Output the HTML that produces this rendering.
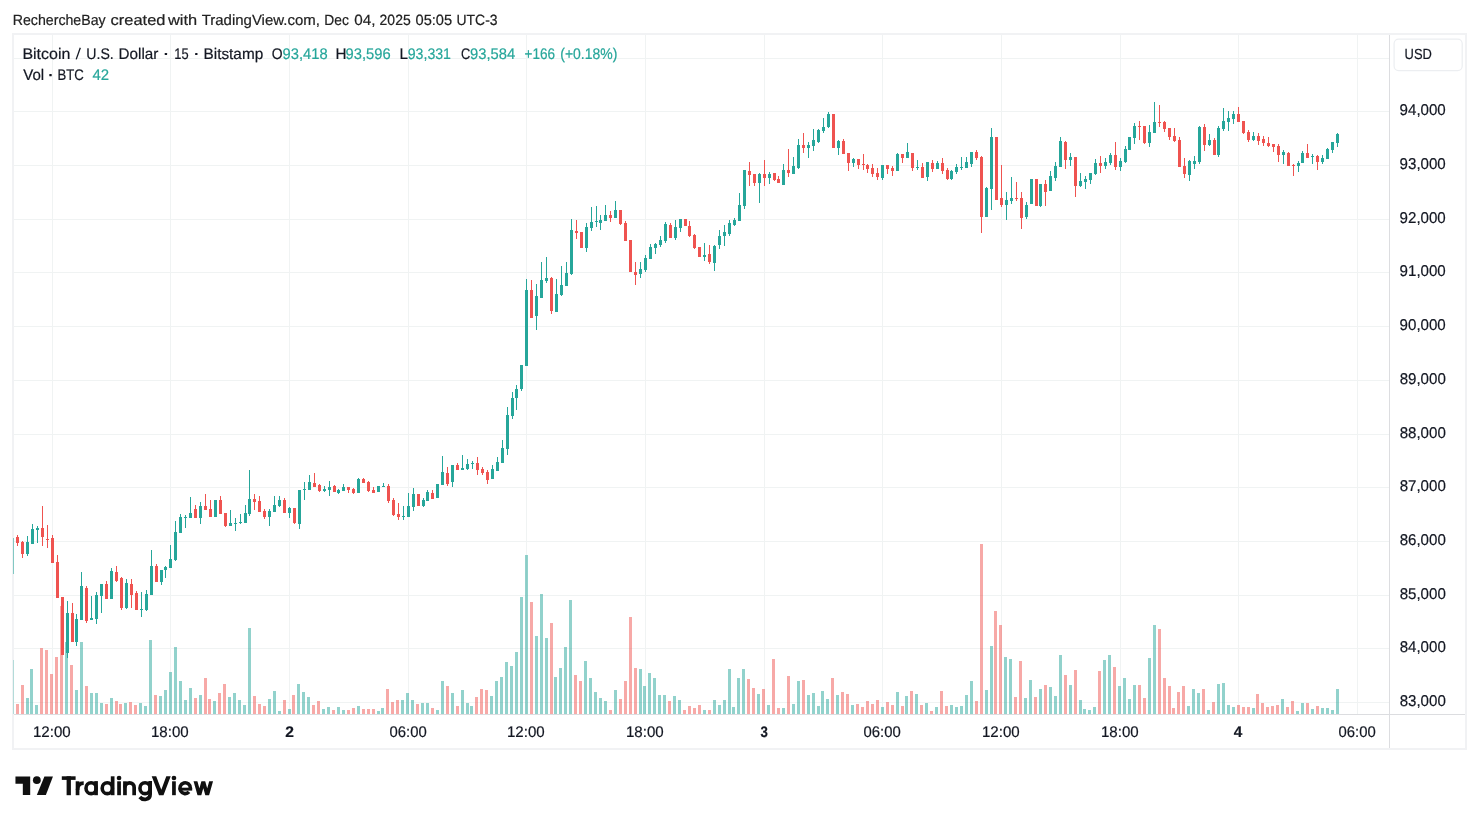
<!DOCTYPE html>
<html><head><meta charset="utf-8"><title>BTCUSD</title>
<style>
html,body{margin:0;padding:0;background:#fff;}
body{width:1479px;height:824px;overflow:hidden;}
svg{display:block;text-rendering:geometricPrecision;will-change:transform;font-family:"Liberation Sans",sans-serif;}
</style></head><body>
<svg width="1479" height="824" viewBox="0 0 1479 824">
<rect width="1479" height="824" fill="#fff"/>
<defs><clipPath id="pane"><rect x="13" y="34" width="1376" height="680"/></clipPath></defs>
<g shape-rendering="crispEdges" fill="#f0f3f3">
<rect x="52" y="34" width="1" height="680"/><rect x="170" y="34" width="1" height="680"/><rect x="289" y="34" width="1" height="680"/><rect x="408" y="34" width="1" height="680"/><rect x="526" y="34" width="1" height="680"/><rect x="645" y="34" width="1" height="680"/><rect x="764" y="34" width="1" height="680"/><rect x="882" y="34" width="1" height="680"/><rect x="1001" y="34" width="1" height="680"/><rect x="1120" y="34" width="1" height="680"/><rect x="1238" y="34" width="1" height="680"/><rect x="1357" y="34" width="1" height="680"/><rect x="13" y="702" width="1376" height="1"/><rect x="13" y="648" width="1376" height="1"/><rect x="13" y="595" width="1376" height="1"/><rect x="13" y="541" width="1376" height="1"/><rect x="13" y="487" width="1376" height="1"/><rect x="13" y="434" width="1376" height="1"/><rect x="13" y="380" width="1376" height="1"/><rect x="13" y="326" width="1376" height="1"/><rect x="13" y="272" width="1376" height="1"/><rect x="13" y="219" width="1376" height="1"/><rect x="13" y="165" width="1376" height="1"/><rect x="13" y="111" width="1376" height="1"/><rect x="13" y="58" width="1376" height="1"/>
</g>
<g shape-rendering="crispEdges" clip-path="url(#pane)">
<rect x="11" y="660" width="3" height="54" fill="#26a69a" fill-opacity="0.5"/><rect x="16" y="704" width="3" height="10" fill="#ef5350" fill-opacity="0.5"/><rect x="21" y="685" width="3" height="29" fill="#ef5350" fill-opacity="0.5"/><rect x="26" y="698" width="3" height="16" fill="#26a69a" fill-opacity="0.5"/><rect x="30" y="669" width="3" height="45" fill="#26a69a" fill-opacity="0.5"/><rect x="35" y="705" width="3" height="9" fill="#26a69a" fill-opacity="0.5"/><rect x="40" y="648" width="3" height="66" fill="#ef5350" fill-opacity="0.5"/><rect x="45" y="650" width="3" height="64" fill="#ef5350" fill-opacity="0.5"/><rect x="50" y="674" width="3" height="40" fill="#ef5350" fill-opacity="0.5"/><rect x="55" y="657" width="3" height="57" fill="#ef5350" fill-opacity="0.5"/><rect x="60" y="606" width="3" height="108" fill="#ef5350" fill-opacity="0.5"/><rect x="65" y="642" width="3" height="72" fill="#26a69a" fill-opacity="0.5"/><rect x="70" y="665" width="3" height="49" fill="#ef5350" fill-opacity="0.5"/><rect x="75" y="690" width="3" height="24" fill="#26a69a" fill-opacity="0.5"/><rect x="80" y="642" width="3" height="72" fill="#26a69a" fill-opacity="0.5"/><rect x="85" y="686" width="3" height="28" fill="#ef5350" fill-opacity="0.5"/><rect x="90" y="693" width="3" height="21" fill="#26a69a" fill-opacity="0.5"/><rect x="95" y="693" width="3" height="21" fill="#26a69a" fill-opacity="0.5"/><rect x="100" y="703" width="3" height="11" fill="#26a69a" fill-opacity="0.5"/><rect x="105" y="704" width="3" height="10" fill="#ef5350" fill-opacity="0.5"/><rect x="110" y="698" width="3" height="16" fill="#26a69a" fill-opacity="0.5"/><rect x="115" y="701" width="3" height="13" fill="#ef5350" fill-opacity="0.5"/><rect x="119" y="704" width="3" height="10" fill="#ef5350" fill-opacity="0.5"/><rect x="124" y="703" width="3" height="11" fill="#26a69a" fill-opacity="0.5"/><rect x="129" y="702" width="3" height="12" fill="#ef5350" fill-opacity="0.5"/><rect x="134" y="705" width="3" height="9" fill="#ef5350" fill-opacity="0.5"/><rect x="139" y="703" width="3" height="11" fill="#26a69a" fill-opacity="0.5"/><rect x="144" y="706" width="3" height="8" fill="#26a69a" fill-opacity="0.5"/><rect x="149" y="640" width="3" height="74" fill="#26a69a" fill-opacity="0.5"/><rect x="154" y="695" width="3" height="19" fill="#ef5350" fill-opacity="0.5"/><rect x="159" y="696" width="3" height="18" fill="#26a69a" fill-opacity="0.5"/><rect x="164" y="690" width="3" height="24" fill="#26a69a" fill-opacity="0.5"/><rect x="169" y="672" width="3" height="42" fill="#26a69a" fill-opacity="0.5"/><rect x="174" y="647" width="3" height="67" fill="#26a69a" fill-opacity="0.5"/><rect x="179" y="681" width="3" height="33" fill="#26a69a" fill-opacity="0.5"/><rect x="184" y="700" width="3" height="14" fill="#26a69a" fill-opacity="0.5"/><rect x="189" y="688" width="3" height="26" fill="#26a69a" fill-opacity="0.5"/><rect x="194" y="698" width="3" height="16" fill="#ef5350" fill-opacity="0.5"/><rect x="199" y="695" width="3" height="19" fill="#26a69a" fill-opacity="0.5"/><rect x="204" y="678" width="3" height="36" fill="#ef5350" fill-opacity="0.5"/><rect x="208" y="699" width="3" height="15" fill="#ef5350" fill-opacity="0.5"/><rect x="213" y="701" width="3" height="13" fill="#26a69a" fill-opacity="0.5"/><rect x="218" y="693" width="3" height="21" fill="#ef5350" fill-opacity="0.5"/><rect x="223" y="684" width="3" height="30" fill="#ef5350" fill-opacity="0.5"/><rect x="228" y="697" width="3" height="17" fill="#26a69a" fill-opacity="0.5"/><rect x="233" y="693" width="3" height="21" fill="#26a69a" fill-opacity="0.5"/><rect x="238" y="700" width="3" height="14" fill="#26a69a" fill-opacity="0.5"/><rect x="243" y="705" width="3" height="9" fill="#26a69a" fill-opacity="0.5"/><rect x="248" y="628" width="3" height="86" fill="#26a69a" fill-opacity="0.5"/><rect x="253" y="696" width="3" height="18" fill="#ef5350" fill-opacity="0.5"/><rect x="258" y="704" width="3" height="10" fill="#ef5350" fill-opacity="0.5"/><rect x="263" y="706" width="3" height="8" fill="#ef5350" fill-opacity="0.5"/><rect x="268" y="699" width="3" height="15" fill="#26a69a" fill-opacity="0.5"/><rect x="273" y="691" width="3" height="23" fill="#26a69a" fill-opacity="0.5"/><rect x="278" y="711" width="3" height="3" fill="#26a69a" fill-opacity="0.5"/><rect x="283" y="700" width="3" height="14" fill="#ef5350" fill-opacity="0.5"/><rect x="288" y="709" width="3" height="5" fill="#26a69a" fill-opacity="0.5"/><rect x="292" y="695" width="3" height="19" fill="#ef5350" fill-opacity="0.5"/><rect x="297" y="684" width="3" height="30" fill="#26a69a" fill-opacity="0.5"/><rect x="302" y="692" width="3" height="22" fill="#26a69a" fill-opacity="0.5"/><rect x="307" y="697" width="3" height="17" fill="#26a69a" fill-opacity="0.5"/><rect x="312" y="705" width="3" height="9" fill="#ef5350" fill-opacity="0.5"/><rect x="317" y="701" width="3" height="13" fill="#ef5350" fill-opacity="0.5"/><rect x="322" y="709" width="3" height="5" fill="#26a69a" fill-opacity="0.5"/><rect x="327" y="707" width="3" height="7" fill="#26a69a" fill-opacity="0.5"/><rect x="332" y="710" width="3" height="4" fill="#ef5350" fill-opacity="0.5"/><rect x="337" y="707" width="3" height="7" fill="#26a69a" fill-opacity="0.5"/><rect x="342" y="710" width="3" height="4" fill="#26a69a" fill-opacity="0.5"/><rect x="347" y="710" width="3" height="4" fill="#ef5350" fill-opacity="0.5"/><rect x="352" y="708" width="3" height="6" fill="#ef5350" fill-opacity="0.5"/><rect x="357" y="706" width="3" height="8" fill="#26a69a" fill-opacity="0.5"/><rect x="362" y="709" width="3" height="5" fill="#ef5350" fill-opacity="0.5"/><rect x="367" y="709" width="3" height="5" fill="#ef5350" fill-opacity="0.5"/><rect x="372" y="709" width="3" height="5" fill="#ef5350" fill-opacity="0.5"/><rect x="377" y="711" width="3" height="3" fill="#26a69a" fill-opacity="0.5"/><rect x="381" y="708" width="3" height="6" fill="#26a69a" fill-opacity="0.5"/><rect x="386" y="689" width="3" height="25" fill="#ef5350" fill-opacity="0.5"/><rect x="391" y="702" width="3" height="12" fill="#ef5350" fill-opacity="0.5"/><rect x="396" y="700" width="3" height="14" fill="#ef5350" fill-opacity="0.5"/><rect x="401" y="700" width="3" height="14" fill="#26a69a" fill-opacity="0.5"/><rect x="406" y="693" width="3" height="21" fill="#26a69a" fill-opacity="0.5"/><rect x="411" y="700" width="3" height="14" fill="#26a69a" fill-opacity="0.5"/><rect x="416" y="704" width="3" height="10" fill="#ef5350" fill-opacity="0.5"/><rect x="421" y="703" width="3" height="11" fill="#26a69a" fill-opacity="0.5"/><rect x="426" y="703" width="3" height="11" fill="#26a69a" fill-opacity="0.5"/><rect x="431" y="708" width="3" height="6" fill="#ef5350" fill-opacity="0.5"/><rect x="436" y="710" width="3" height="4" fill="#26a69a" fill-opacity="0.5"/><rect x="441" y="681" width="3" height="33" fill="#26a69a" fill-opacity="0.5"/><rect x="446" y="686" width="3" height="28" fill="#ef5350" fill-opacity="0.5"/><rect x="451" y="693" width="3" height="21" fill="#26a69a" fill-opacity="0.5"/><rect x="456" y="706" width="3" height="8" fill="#ef5350" fill-opacity="0.5"/><rect x="461" y="690" width="3" height="24" fill="#26a69a" fill-opacity="0.5"/><rect x="466" y="703" width="3" height="11" fill="#26a69a" fill-opacity="0.5"/><rect x="470" y="706" width="3" height="8" fill="#26a69a" fill-opacity="0.5"/><rect x="475" y="697" width="3" height="17" fill="#ef5350" fill-opacity="0.5"/><rect x="480" y="689" width="3" height="25" fill="#ef5350" fill-opacity="0.5"/><rect x="485" y="690" width="3" height="24" fill="#ef5350" fill-opacity="0.5"/><rect x="490" y="696" width="3" height="18" fill="#26a69a" fill-opacity="0.5"/><rect x="495" y="681" width="3" height="33" fill="#26a69a" fill-opacity="0.5"/><rect x="500" y="677" width="3" height="37" fill="#26a69a" fill-opacity="0.5"/><rect x="505" y="662" width="3" height="52" fill="#26a69a" fill-opacity="0.5"/><rect x="510" y="666" width="3" height="48" fill="#26a69a" fill-opacity="0.5"/><rect x="515" y="652" width="3" height="62" fill="#26a69a" fill-opacity="0.5"/><rect x="520" y="597" width="3" height="117" fill="#26a69a" fill-opacity="0.5"/><rect x="525" y="555" width="3" height="159" fill="#26a69a" fill-opacity="0.5"/><rect x="530" y="602" width="3" height="112" fill="#ef5350" fill-opacity="0.5"/><rect x="535" y="636" width="3" height="78" fill="#26a69a" fill-opacity="0.5"/><rect x="540" y="594" width="3" height="120" fill="#26a69a" fill-opacity="0.5"/><rect x="545" y="638" width="3" height="76" fill="#26a69a" fill-opacity="0.5"/><rect x="550" y="623" width="3" height="91" fill="#ef5350" fill-opacity="0.5"/><rect x="554" y="677" width="3" height="37" fill="#26a69a" fill-opacity="0.5"/><rect x="559" y="668" width="3" height="46" fill="#26a69a" fill-opacity="0.5"/><rect x="564" y="647" width="3" height="67" fill="#26a69a" fill-opacity="0.5"/><rect x="569" y="600" width="3" height="114" fill="#26a69a" fill-opacity="0.5"/><rect x="574" y="675" width="3" height="39" fill="#ef5350" fill-opacity="0.5"/><rect x="579" y="681" width="3" height="33" fill="#ef5350" fill-opacity="0.5"/><rect x="584" y="661" width="3" height="53" fill="#26a69a" fill-opacity="0.5"/><rect x="589" y="678" width="3" height="36" fill="#26a69a" fill-opacity="0.5"/><rect x="594" y="692" width="3" height="22" fill="#26a69a" fill-opacity="0.5"/><rect x="599" y="698" width="3" height="16" fill="#26a69a" fill-opacity="0.5"/><rect x="604" y="701" width="3" height="13" fill="#26a69a" fill-opacity="0.5"/><rect x="609" y="710" width="3" height="4" fill="#ef5350" fill-opacity="0.5"/><rect x="614" y="690" width="3" height="24" fill="#26a69a" fill-opacity="0.5"/><rect x="619" y="699" width="3" height="15" fill="#ef5350" fill-opacity="0.5"/><rect x="624" y="681" width="3" height="33" fill="#ef5350" fill-opacity="0.5"/><rect x="629" y="617" width="3" height="97" fill="#ef5350" fill-opacity="0.5"/><rect x="634" y="668" width="3" height="46" fill="#ef5350" fill-opacity="0.5"/><rect x="639" y="669" width="3" height="45" fill="#26a69a" fill-opacity="0.5"/><rect x="643" y="686" width="3" height="28" fill="#26a69a" fill-opacity="0.5"/><rect x="648" y="673" width="3" height="41" fill="#26a69a" fill-opacity="0.5"/><rect x="653" y="678" width="3" height="36" fill="#26a69a" fill-opacity="0.5"/><rect x="658" y="695" width="3" height="19" fill="#26a69a" fill-opacity="0.5"/><rect x="663" y="695" width="3" height="19" fill="#26a69a" fill-opacity="0.5"/><rect x="668" y="701" width="3" height="13" fill="#ef5350" fill-opacity="0.5"/><rect x="673" y="696" width="3" height="18" fill="#26a69a" fill-opacity="0.5"/><rect x="678" y="700" width="3" height="14" fill="#26a69a" fill-opacity="0.5"/><rect x="683" y="710" width="3" height="4" fill="#ef5350" fill-opacity="0.5"/><rect x="688" y="706" width="3" height="8" fill="#ef5350" fill-opacity="0.5"/><rect x="693" y="708" width="3" height="6" fill="#ef5350" fill-opacity="0.5"/><rect x="698" y="705" width="3" height="9" fill="#ef5350" fill-opacity="0.5"/><rect x="703" y="710" width="3" height="4" fill="#26a69a" fill-opacity="0.5"/><rect x="708" y="710" width="3" height="4" fill="#ef5350" fill-opacity="0.5"/><rect x="713" y="700" width="3" height="14" fill="#26a69a" fill-opacity="0.5"/><rect x="718" y="705" width="3" height="9" fill="#26a69a" fill-opacity="0.5"/><rect x="723" y="700" width="3" height="14" fill="#26a69a" fill-opacity="0.5"/><rect x="728" y="669" width="3" height="45" fill="#26a69a" fill-opacity="0.5"/><rect x="732" y="707" width="3" height="7" fill="#26a69a" fill-opacity="0.5"/><rect x="737" y="678" width="3" height="36" fill="#26a69a" fill-opacity="0.5"/><rect x="742" y="669" width="3" height="45" fill="#26a69a" fill-opacity="0.5"/><rect x="747" y="679" width="3" height="35" fill="#ef5350" fill-opacity="0.5"/><rect x="752" y="688" width="3" height="26" fill="#ef5350" fill-opacity="0.5"/><rect x="757" y="694" width="3" height="20" fill="#26a69a" fill-opacity="0.5"/><rect x="762" y="689" width="3" height="25" fill="#ef5350" fill-opacity="0.5"/><rect x="767" y="705" width="3" height="9" fill="#26a69a" fill-opacity="0.5"/><rect x="772" y="659" width="3" height="55" fill="#ef5350" fill-opacity="0.5"/><rect x="777" y="708" width="3" height="6" fill="#ef5350" fill-opacity="0.5"/><rect x="782" y="708" width="3" height="6" fill="#26a69a" fill-opacity="0.5"/><rect x="787" y="676" width="3" height="38" fill="#ef5350" fill-opacity="0.5"/><rect x="792" y="704" width="3" height="10" fill="#26a69a" fill-opacity="0.5"/><rect x="797" y="681" width="3" height="33" fill="#26a69a" fill-opacity="0.5"/><rect x="802" y="680" width="3" height="34" fill="#ef5350" fill-opacity="0.5"/><rect x="807" y="695" width="3" height="19" fill="#26a69a" fill-opacity="0.5"/><rect x="812" y="693" width="3" height="21" fill="#26a69a" fill-opacity="0.5"/><rect x="817" y="706" width="3" height="8" fill="#26a69a" fill-opacity="0.5"/><rect x="821" y="691" width="3" height="23" fill="#26a69a" fill-opacity="0.5"/><rect x="826" y="699" width="3" height="15" fill="#26a69a" fill-opacity="0.5"/><rect x="831" y="678" width="3" height="36" fill="#ef5350" fill-opacity="0.5"/><rect x="836" y="695" width="3" height="19" fill="#26a69a" fill-opacity="0.5"/><rect x="841" y="692" width="3" height="22" fill="#ef5350" fill-opacity="0.5"/><rect x="846" y="694" width="3" height="20" fill="#ef5350" fill-opacity="0.5"/><rect x="851" y="705" width="3" height="9" fill="#26a69a" fill-opacity="0.5"/><rect x="856" y="704" width="3" height="10" fill="#ef5350" fill-opacity="0.5"/><rect x="861" y="707" width="3" height="7" fill="#ef5350" fill-opacity="0.5"/><rect x="866" y="701" width="3" height="13" fill="#ef5350" fill-opacity="0.5"/><rect x="871" y="704" width="3" height="10" fill="#ef5350" fill-opacity="0.5"/><rect x="876" y="700" width="3" height="14" fill="#ef5350" fill-opacity="0.5"/><rect x="881" y="707" width="3" height="7" fill="#26a69a" fill-opacity="0.5"/><rect x="886" y="702" width="3" height="12" fill="#ef5350" fill-opacity="0.5"/><rect x="891" y="705" width="3" height="9" fill="#ef5350" fill-opacity="0.5"/><rect x="896" y="692" width="3" height="22" fill="#26a69a" fill-opacity="0.5"/><rect x="901" y="706" width="3" height="8" fill="#ef5350" fill-opacity="0.5"/><rect x="905" y="696" width="3" height="18" fill="#26a69a" fill-opacity="0.5"/><rect x="910" y="691" width="3" height="23" fill="#ef5350" fill-opacity="0.5"/><rect x="915" y="694" width="3" height="20" fill="#26a69a" fill-opacity="0.5"/><rect x="920" y="705" width="3" height="9" fill="#ef5350" fill-opacity="0.5"/><rect x="925" y="703" width="3" height="11" fill="#26a69a" fill-opacity="0.5"/><rect x="930" y="711" width="3" height="3" fill="#ef5350" fill-opacity="0.5"/><rect x="935" y="707" width="3" height="7" fill="#26a69a" fill-opacity="0.5"/><rect x="940" y="691" width="3" height="23" fill="#ef5350" fill-opacity="0.5"/><rect x="945" y="706" width="3" height="8" fill="#ef5350" fill-opacity="0.5"/><rect x="950" y="705" width="3" height="9" fill="#26a69a" fill-opacity="0.5"/><rect x="955" y="707" width="3" height="7" fill="#26a69a" fill-opacity="0.5"/><rect x="960" y="706" width="3" height="8" fill="#26a69a" fill-opacity="0.5"/><rect x="965" y="695" width="3" height="19" fill="#26a69a" fill-opacity="0.5"/><rect x="970" y="681" width="3" height="33" fill="#26a69a" fill-opacity="0.5"/><rect x="975" y="701" width="3" height="13" fill="#ef5350" fill-opacity="0.5"/><rect x="980" y="544" width="3" height="170" fill="#ef5350" fill-opacity="0.5"/><rect x="985" y="690" width="3" height="24" fill="#26a69a" fill-opacity="0.5"/><rect x="990" y="646" width="3" height="68" fill="#26a69a" fill-opacity="0.5"/><rect x="994" y="611" width="3" height="103" fill="#ef5350" fill-opacity="0.5"/><rect x="999" y="625" width="3" height="89" fill="#ef5350" fill-opacity="0.5"/><rect x="1004" y="657" width="3" height="57" fill="#26a69a" fill-opacity="0.5"/><rect x="1009" y="659" width="3" height="55" fill="#26a69a" fill-opacity="0.5"/><rect x="1014" y="697" width="3" height="17" fill="#ef5350" fill-opacity="0.5"/><rect x="1019" y="661" width="3" height="53" fill="#ef5350" fill-opacity="0.5"/><rect x="1024" y="698" width="3" height="16" fill="#26a69a" fill-opacity="0.5"/><rect x="1029" y="680" width="3" height="34" fill="#26a69a" fill-opacity="0.5"/><rect x="1034" y="697" width="3" height="17" fill="#ef5350" fill-opacity="0.5"/><rect x="1039" y="689" width="3" height="25" fill="#26a69a" fill-opacity="0.5"/><rect x="1044" y="685" width="3" height="29" fill="#ef5350" fill-opacity="0.5"/><rect x="1049" y="687" width="3" height="27" fill="#26a69a" fill-opacity="0.5"/><rect x="1054" y="696" width="3" height="18" fill="#26a69a" fill-opacity="0.5"/><rect x="1059" y="655" width="3" height="59" fill="#26a69a" fill-opacity="0.5"/><rect x="1064" y="675" width="3" height="39" fill="#ef5350" fill-opacity="0.5"/><rect x="1069" y="685" width="3" height="29" fill="#26a69a" fill-opacity="0.5"/><rect x="1074" y="670" width="3" height="44" fill="#ef5350" fill-opacity="0.5"/><rect x="1079" y="700" width="3" height="14" fill="#26a69a" fill-opacity="0.5"/><rect x="1083" y="709" width="3" height="5" fill="#26a69a" fill-opacity="0.5"/><rect x="1088" y="710" width="3" height="4" fill="#26a69a" fill-opacity="0.5"/><rect x="1093" y="707" width="3" height="7" fill="#26a69a" fill-opacity="0.5"/><rect x="1098" y="671" width="3" height="43" fill="#ef5350" fill-opacity="0.5"/><rect x="1103" y="660" width="3" height="54" fill="#26a69a" fill-opacity="0.5"/><rect x="1108" y="655" width="3" height="59" fill="#26a69a" fill-opacity="0.5"/><rect x="1113" y="667" width="3" height="47" fill="#ef5350" fill-opacity="0.5"/><rect x="1118" y="686" width="3" height="28" fill="#26a69a" fill-opacity="0.5"/><rect x="1123" y="678" width="3" height="36" fill="#26a69a" fill-opacity="0.5"/><rect x="1128" y="699" width="3" height="15" fill="#26a69a" fill-opacity="0.5"/><rect x="1133" y="685" width="3" height="29" fill="#26a69a" fill-opacity="0.5"/><rect x="1138" y="685" width="3" height="29" fill="#ef5350" fill-opacity="0.5"/><rect x="1143" y="698" width="3" height="16" fill="#ef5350" fill-opacity="0.5"/><rect x="1148" y="658" width="3" height="56" fill="#26a69a" fill-opacity="0.5"/><rect x="1153" y="625" width="3" height="89" fill="#26a69a" fill-opacity="0.5"/><rect x="1158" y="629" width="3" height="85" fill="#ef5350" fill-opacity="0.5"/><rect x="1163" y="678" width="3" height="36" fill="#ef5350" fill-opacity="0.5"/><rect x="1168" y="686" width="3" height="28" fill="#ef5350" fill-opacity="0.5"/><rect x="1172" y="708" width="3" height="6" fill="#ef5350" fill-opacity="0.5"/><rect x="1177" y="692" width="3" height="22" fill="#ef5350" fill-opacity="0.5"/><rect x="1182" y="686" width="3" height="28" fill="#ef5350" fill-opacity="0.5"/><rect x="1187" y="706" width="3" height="8" fill="#26a69a" fill-opacity="0.5"/><rect x="1192" y="689" width="3" height="25" fill="#26a69a" fill-opacity="0.5"/><rect x="1197" y="693" width="3" height="21" fill="#26a69a" fill-opacity="0.5"/><rect x="1202" y="689" width="3" height="25" fill="#ef5350" fill-opacity="0.5"/><rect x="1207" y="710" width="3" height="4" fill="#26a69a" fill-opacity="0.5"/><rect x="1212" y="702" width="3" height="12" fill="#ef5350" fill-opacity="0.5"/><rect x="1217" y="684" width="3" height="30" fill="#26a69a" fill-opacity="0.5"/><rect x="1222" y="683" width="3" height="31" fill="#26a69a" fill-opacity="0.5"/><rect x="1227" y="705" width="3" height="9" fill="#26a69a" fill-opacity="0.5"/><rect x="1232" y="707" width="3" height="7" fill="#26a69a" fill-opacity="0.5"/><rect x="1237" y="705" width="3" height="9" fill="#ef5350" fill-opacity="0.5"/><rect x="1242" y="707" width="3" height="7" fill="#ef5350" fill-opacity="0.5"/><rect x="1247" y="707" width="3" height="7" fill="#ef5350" fill-opacity="0.5"/><rect x="1252" y="708" width="3" height="6" fill="#26a69a" fill-opacity="0.5"/><rect x="1256" y="694" width="3" height="20" fill="#ef5350" fill-opacity="0.5"/><rect x="1261" y="703" width="3" height="11" fill="#ef5350" fill-opacity="0.5"/><rect x="1266" y="707" width="3" height="7" fill="#ef5350" fill-opacity="0.5"/><rect x="1271" y="706" width="3" height="8" fill="#ef5350" fill-opacity="0.5"/><rect x="1276" y="705" width="3" height="9" fill="#ef5350" fill-opacity="0.5"/><rect x="1281" y="699" width="3" height="15" fill="#26a69a" fill-opacity="0.5"/><rect x="1286" y="707" width="3" height="7" fill="#ef5350" fill-opacity="0.5"/><rect x="1291" y="701" width="3" height="13" fill="#ef5350" fill-opacity="0.5"/><rect x="1296" y="711" width="3" height="3" fill="#26a69a" fill-opacity="0.5"/><rect x="1301" y="703" width="3" height="11" fill="#26a69a" fill-opacity="0.5"/><rect x="1306" y="703" width="3" height="11" fill="#ef5350" fill-opacity="0.5"/><rect x="1311" y="709" width="3" height="5" fill="#26a69a" fill-opacity="0.5"/><rect x="1316" y="706" width="3" height="8" fill="#ef5350" fill-opacity="0.5"/><rect x="1321" y="708" width="3" height="6" fill="#26a69a" fill-opacity="0.5"/><rect x="1326" y="708" width="3" height="6" fill="#26a69a" fill-opacity="0.5"/><rect x="1331" y="710" width="3" height="4" fill="#26a69a" fill-opacity="0.5"/><rect x="1336" y="689" width="3" height="25" fill="#26a69a" fill-opacity="0.5"/>
</g>
<g shape-rendering="crispEdges" clip-path="url(#pane)">
<rect x="12" y="538" width="1" height="36" fill="#26a69a"/><rect x="11" y="538" width="3" height="36" fill="#26a69a"/><rect x="17" y="535" width="1" height="11" fill="#ef5350"/><rect x="16" y="537" width="3" height="6" fill="#ef5350"/><rect x="22" y="541" width="1" height="17" fill="#ef5350"/><rect x="21" y="542" width="3" height="12" fill="#ef5350"/><rect x="27" y="536" width="1" height="20" fill="#26a69a"/><rect x="26" y="542" width="3" height="12" fill="#26a69a"/><rect x="32" y="524" width="1" height="20" fill="#26a69a"/><rect x="31" y="529" width="3" height="15" fill="#26a69a"/><rect x="37" y="526" width="1" height="17" fill="#26a69a"/><rect x="36" y="528" width="3" height="2" fill="#26a69a"/><rect x="42" y="506" width="1" height="40" fill="#ef5350"/><rect x="41" y="528" width="3" height="9" fill="#ef5350"/><rect x="47" y="525" width="1" height="23" fill="#ef5350"/><rect x="46" y="539" width="3" height="1" fill="#ef5350"/><rect x="52" y="535" width="1" height="28" fill="#ef5350"/><rect x="51" y="538" width="3" height="25" fill="#ef5350"/><rect x="57" y="555" width="1" height="43" fill="#ef5350"/><rect x="56" y="562" width="3" height="36" fill="#ef5350"/><rect x="62" y="597" width="1" height="58" fill="#ef5350"/><rect x="61" y="597" width="3" height="58" fill="#ef5350"/><rect x="67" y="601" width="1" height="57" fill="#26a69a"/><rect x="66" y="613" width="3" height="40" fill="#26a69a"/><rect x="72" y="603" width="1" height="39" fill="#ef5350"/><rect x="71" y="613" width="3" height="29" fill="#ef5350"/><rect x="76" y="614" width="1" height="32" fill="#26a69a"/><rect x="75" y="619" width="3" height="23" fill="#26a69a"/><rect x="81" y="572" width="1" height="48" fill="#26a69a"/><rect x="80" y="586" width="3" height="34" fill="#26a69a"/><rect x="86" y="586" width="1" height="37" fill="#ef5350"/><rect x="85" y="588" width="3" height="33" fill="#ef5350"/><rect x="91" y="596" width="1" height="24" fill="#26a69a"/><rect x="90" y="618" width="3" height="2" fill="#26a69a"/><rect x="96" y="592" width="1" height="32" fill="#26a69a"/><rect x="95" y="595" width="3" height="24" fill="#26a69a"/><rect x="101" y="584" width="1" height="29" fill="#26a69a"/><rect x="100" y="584" width="3" height="12" fill="#26a69a"/><rect x="106" y="581" width="1" height="18" fill="#ef5350"/><rect x="105" y="584" width="3" height="15" fill="#ef5350"/><rect x="111" y="568" width="1" height="31" fill="#26a69a"/><rect x="110" y="571" width="3" height="28" fill="#26a69a"/><rect x="116" y="566" width="1" height="16" fill="#ef5350"/><rect x="115" y="572" width="3" height="9" fill="#ef5350"/><rect x="121" y="577" width="1" height="33" fill="#ef5350"/><rect x="120" y="578" width="3" height="30" fill="#ef5350"/><rect x="126" y="579" width="1" height="30" fill="#26a69a"/><rect x="125" y="583" width="3" height="25" fill="#26a69a"/><rect x="131" y="579" width="1" height="29" fill="#ef5350"/><rect x="130" y="584" width="3" height="11" fill="#ef5350"/><rect x="136" y="591" width="1" height="19" fill="#ef5350"/><rect x="135" y="593" width="3" height="17" fill="#ef5350"/><rect x="141" y="592" width="1" height="25" fill="#26a69a"/><rect x="140" y="609" width="3" height="1" fill="#26a69a"/><rect x="146" y="590" width="1" height="21" fill="#26a69a"/><rect x="145" y="594" width="3" height="16" fill="#26a69a"/><rect x="151" y="550" width="1" height="45" fill="#26a69a"/><rect x="150" y="566" width="3" height="29" fill="#26a69a"/><rect x="156" y="564" width="1" height="18" fill="#ef5350"/><rect x="155" y="566" width="3" height="16" fill="#ef5350"/><rect x="161" y="570" width="1" height="15" fill="#26a69a"/><rect x="160" y="570" width="3" height="12" fill="#26a69a"/><rect x="165" y="566" width="1" height="12" fill="#26a69a"/><rect x="164" y="567" width="3" height="3" fill="#26a69a"/><rect x="170" y="545" width="1" height="23" fill="#26a69a"/><rect x="169" y="559" width="3" height="9" fill="#26a69a"/><rect x="175" y="521" width="1" height="40" fill="#26a69a"/><rect x="174" y="532" width="3" height="28" fill="#26a69a"/><rect x="180" y="514" width="1" height="19" fill="#26a69a"/><rect x="179" y="517" width="3" height="16" fill="#26a69a"/><rect x="185" y="515" width="1" height="13" fill="#26a69a"/><rect x="184" y="517" width="3" height="1" fill="#26a69a"/><rect x="190" y="497" width="1" height="21" fill="#26a69a"/><rect x="189" y="513" width="3" height="5" fill="#26a69a"/><rect x="195" y="505" width="1" height="13" fill="#ef5350"/><rect x="194" y="509" width="3" height="9" fill="#ef5350"/><rect x="200" y="502" width="1" height="22" fill="#26a69a"/><rect x="199" y="506" width="3" height="12" fill="#26a69a"/><rect x="205" y="494" width="1" height="16" fill="#ef5350"/><rect x="204" y="506" width="3" height="4" fill="#ef5350"/><rect x="210" y="500" width="1" height="17" fill="#ef5350"/><rect x="209" y="509" width="3" height="8" fill="#ef5350"/><rect x="215" y="500" width="1" height="17" fill="#26a69a"/><rect x="214" y="500" width="3" height="17" fill="#26a69a"/><rect x="220" y="496" width="1" height="18" fill="#ef5350"/><rect x="219" y="500" width="3" height="14" fill="#ef5350"/><rect x="225" y="513" width="1" height="14" fill="#ef5350"/><rect x="224" y="513" width="3" height="13" fill="#ef5350"/><rect x="230" y="510" width="1" height="16" fill="#26a69a"/><rect x="229" y="523" width="3" height="3" fill="#26a69a"/><rect x="235" y="518" width="1" height="13" fill="#26a69a"/><rect x="234" y="523" width="3" height="1" fill="#26a69a"/><rect x="240" y="514" width="1" height="10" fill="#26a69a"/><rect x="239" y="522" width="3" height="1" fill="#26a69a"/><rect x="245" y="505" width="1" height="18" fill="#26a69a"/><rect x="244" y="513" width="3" height="10" fill="#26a69a"/><rect x="249" y="470" width="1" height="46" fill="#26a69a"/><rect x="248" y="499" width="3" height="15" fill="#26a69a"/><rect x="254" y="494" width="1" height="16" fill="#ef5350"/><rect x="253" y="499" width="3" height="3" fill="#ef5350"/><rect x="259" y="496" width="1" height="16" fill="#ef5350"/><rect x="258" y="501" width="3" height="11" fill="#ef5350"/><rect x="264" y="509" width="1" height="10" fill="#ef5350"/><rect x="263" y="511" width="3" height="6" fill="#ef5350"/><rect x="269" y="509" width="1" height="17" fill="#26a69a"/><rect x="268" y="511" width="3" height="6" fill="#26a69a"/><rect x="274" y="496" width="1" height="16" fill="#26a69a"/><rect x="273" y="505" width="3" height="7" fill="#26a69a"/><rect x="279" y="496" width="1" height="11" fill="#26a69a"/><rect x="278" y="500" width="3" height="6" fill="#26a69a"/><rect x="284" y="498" width="1" height="15" fill="#ef5350"/><rect x="283" y="500" width="3" height="13" fill="#ef5350"/><rect x="289" y="507" width="1" height="11" fill="#26a69a"/><rect x="288" y="508" width="3" height="5" fill="#26a69a"/><rect x="294" y="508" width="1" height="16" fill="#ef5350"/><rect x="293" y="508" width="3" height="15" fill="#ef5350"/><rect x="299" y="490" width="1" height="39" fill="#26a69a"/><rect x="298" y="490" width="3" height="34" fill="#26a69a"/><rect x="304" y="482" width="1" height="18" fill="#26a69a"/><rect x="303" y="489" width="3" height="1" fill="#26a69a"/><rect x="309" y="475" width="1" height="15" fill="#26a69a"/><rect x="308" y="482" width="3" height="8" fill="#26a69a"/><rect x="314" y="473" width="1" height="14" fill="#ef5350"/><rect x="313" y="483" width="3" height="4" fill="#ef5350"/><rect x="319" y="484" width="1" height="8" fill="#ef5350"/><rect x="318" y="485" width="3" height="6" fill="#ef5350"/><rect x="324" y="486" width="1" height="6" fill="#26a69a"/><rect x="323" y="489" width="3" height="2" fill="#26a69a"/><rect x="329" y="481" width="1" height="15" fill="#26a69a"/><rect x="328" y="487" width="3" height="3" fill="#26a69a"/><rect x="334" y="485" width="1" height="7" fill="#ef5350"/><rect x="333" y="486" width="3" height="6" fill="#ef5350"/><rect x="338" y="489" width="1" height="5" fill="#26a69a"/><rect x="337" y="490" width="3" height="3" fill="#26a69a"/><rect x="343" y="484" width="1" height="7" fill="#26a69a"/><rect x="342" y="487" width="3" height="4" fill="#26a69a"/><rect x="348" y="487" width="1" height="6" fill="#ef5350"/><rect x="347" y="487" width="3" height="3" fill="#ef5350"/><rect x="353" y="488" width="1" height="6" fill="#ef5350"/><rect x="352" y="489" width="3" height="4" fill="#ef5350"/><rect x="358" y="478" width="1" height="15" fill="#26a69a"/><rect x="357" y="479" width="3" height="14" fill="#26a69a"/><rect x="363" y="478" width="1" height="5" fill="#ef5350"/><rect x="362" y="479" width="3" height="4" fill="#ef5350"/><rect x="368" y="481" width="1" height="11" fill="#ef5350"/><rect x="367" y="482" width="3" height="9" fill="#ef5350"/><rect x="373" y="487" width="1" height="6" fill="#ef5350"/><rect x="372" y="490" width="3" height="3" fill="#ef5350"/><rect x="378" y="486" width="1" height="6" fill="#26a69a"/><rect x="377" y="486" width="3" height="6" fill="#26a69a"/><rect x="383" y="483" width="1" height="4" fill="#26a69a"/><rect x="382" y="486" width="3" height="1" fill="#26a69a"/><rect x="388" y="484" width="1" height="19" fill="#ef5350"/><rect x="387" y="486" width="3" height="15" fill="#ef5350"/><rect x="393" y="498" width="1" height="18" fill="#ef5350"/><rect x="392" y="500" width="3" height="15" fill="#ef5350"/><rect x="398" y="503" width="1" height="17" fill="#ef5350"/><rect x="397" y="514" width="3" height="3" fill="#ef5350"/><rect x="403" y="506" width="1" height="14" fill="#26a69a"/><rect x="402" y="516" width="3" height="1" fill="#26a69a"/><rect x="408" y="493" width="1" height="24" fill="#26a69a"/><rect x="407" y="506" width="3" height="11" fill="#26a69a"/><rect x="413" y="488" width="1" height="23" fill="#26a69a"/><rect x="412" y="494" width="3" height="13" fill="#26a69a"/><rect x="418" y="494" width="1" height="12" fill="#ef5350"/><rect x="417" y="494" width="3" height="12" fill="#ef5350"/><rect x="423" y="498" width="1" height="9" fill="#26a69a"/><rect x="422" y="500" width="3" height="6" fill="#26a69a"/><rect x="427" y="490" width="1" height="11" fill="#26a69a"/><rect x="426" y="492" width="3" height="9" fill="#26a69a"/><rect x="432" y="490" width="1" height="9" fill="#ef5350"/><rect x="431" y="493" width="3" height="6" fill="#ef5350"/><rect x="437" y="484" width="1" height="14" fill="#26a69a"/><rect x="436" y="484" width="3" height="14" fill="#26a69a"/><rect x="442" y="456" width="1" height="29" fill="#26a69a"/><rect x="441" y="472" width="3" height="13" fill="#26a69a"/><rect x="447" y="467" width="1" height="19" fill="#ef5350"/><rect x="446" y="473" width="3" height="11" fill="#ef5350"/><rect x="452" y="465" width="1" height="22" fill="#26a69a"/><rect x="451" y="465" width="3" height="17" fill="#26a69a"/><rect x="457" y="463" width="1" height="7" fill="#ef5350"/><rect x="456" y="465" width="3" height="5" fill="#ef5350"/><rect x="462" y="455" width="1" height="15" fill="#26a69a"/><rect x="461" y="468" width="3" height="2" fill="#26a69a"/><rect x="467" y="459" width="1" height="11" fill="#26a69a"/><rect x="466" y="464" width="3" height="5" fill="#26a69a"/><rect x="472" y="461" width="1" height="8" fill="#26a69a"/><rect x="471" y="463" width="3" height="1" fill="#26a69a"/><rect x="477" y="457" width="1" height="18" fill="#ef5350"/><rect x="476" y="463" width="3" height="7" fill="#ef5350"/><rect x="482" y="467" width="1" height="8" fill="#ef5350"/><rect x="481" y="469" width="3" height="4" fill="#ef5350"/><rect x="487" y="470" width="1" height="14" fill="#ef5350"/><rect x="486" y="472" width="3" height="8" fill="#ef5350"/><rect x="492" y="465" width="1" height="14" fill="#26a69a"/><rect x="491" y="469" width="3" height="10" fill="#26a69a"/><rect x="497" y="457" width="1" height="14" fill="#26a69a"/><rect x="496" y="462" width="3" height="9" fill="#26a69a"/><rect x="502" y="440" width="1" height="23" fill="#26a69a"/><rect x="501" y="448" width="3" height="15" fill="#26a69a"/><rect x="507" y="407" width="1" height="48" fill="#26a69a"/><rect x="506" y="415" width="3" height="34" fill="#26a69a"/><rect x="512" y="392" width="1" height="27" fill="#26a69a"/><rect x="511" y="398" width="3" height="18" fill="#26a69a"/><rect x="516" y="385" width="1" height="25" fill="#26a69a"/><rect x="515" y="389" width="3" height="9" fill="#26a69a"/><rect x="521" y="365" width="1" height="26" fill="#26a69a"/><rect x="520" y="365" width="3" height="24" fill="#26a69a"/><rect x="526" y="279" width="1" height="87" fill="#26a69a"/><rect x="525" y="290" width="3" height="76" fill="#26a69a"/><rect x="531" y="280" width="1" height="38" fill="#ef5350"/><rect x="530" y="290" width="3" height="28" fill="#ef5350"/><rect x="536" y="284" width="1" height="46" fill="#26a69a"/><rect x="535" y="296" width="3" height="20" fill="#26a69a"/><rect x="541" y="262" width="1" height="36" fill="#26a69a"/><rect x="540" y="280" width="3" height="18" fill="#26a69a"/><rect x="546" y="257" width="1" height="26" fill="#26a69a"/><rect x="545" y="278" width="3" height="3" fill="#26a69a"/><rect x="551" y="277" width="1" height="37" fill="#ef5350"/><rect x="550" y="278" width="3" height="33" fill="#ef5350"/><rect x="556" y="279" width="1" height="33" fill="#26a69a"/><rect x="555" y="294" width="3" height="18" fill="#26a69a"/><rect x="561" y="266" width="1" height="30" fill="#26a69a"/><rect x="560" y="285" width="3" height="10" fill="#26a69a"/><rect x="566" y="262" width="1" height="24" fill="#26a69a"/><rect x="565" y="273" width="3" height="13" fill="#26a69a"/><rect x="571" y="219" width="1" height="56" fill="#26a69a"/><rect x="570" y="230" width="3" height="44" fill="#26a69a"/><rect x="576" y="220" width="1" height="19" fill="#ef5350"/><rect x="575" y="231" width="3" height="2" fill="#ef5350"/><rect x="581" y="232" width="1" height="16" fill="#ef5350"/><rect x="580" y="232" width="3" height="16" fill="#ef5350"/><rect x="586" y="223" width="1" height="29" fill="#26a69a"/><rect x="585" y="227" width="3" height="21" fill="#26a69a"/><rect x="591" y="207" width="1" height="24" fill="#26a69a"/><rect x="590" y="222" width="3" height="6" fill="#26a69a"/><rect x="596" y="206" width="1" height="21" fill="#26a69a"/><rect x="595" y="221" width="3" height="1" fill="#26a69a"/><rect x="600" y="215" width="1" height="15" fill="#26a69a"/><rect x="599" y="220" width="3" height="3" fill="#26a69a"/><rect x="605" y="205" width="1" height="16" fill="#26a69a"/><rect x="604" y="215" width="3" height="6" fill="#26a69a"/><rect x="610" y="211" width="1" height="11" fill="#ef5350"/><rect x="609" y="215" width="3" height="3" fill="#ef5350"/><rect x="615" y="201" width="1" height="17" fill="#26a69a"/><rect x="614" y="210" width="3" height="8" fill="#26a69a"/><rect x="620" y="210" width="1" height="15" fill="#ef5350"/><rect x="619" y="210" width="3" height="14" fill="#ef5350"/><rect x="625" y="221" width="1" height="20" fill="#ef5350"/><rect x="624" y="223" width="3" height="18" fill="#ef5350"/><rect x="630" y="240" width="1" height="32" fill="#ef5350"/><rect x="629" y="240" width="3" height="32" fill="#ef5350"/><rect x="635" y="262" width="1" height="23" fill="#ef5350"/><rect x="634" y="272" width="3" height="3" fill="#ef5350"/><rect x="640" y="262" width="1" height="16" fill="#26a69a"/><rect x="639" y="269" width="3" height="5" fill="#26a69a"/><rect x="645" y="255" width="1" height="17" fill="#26a69a"/><rect x="644" y="258" width="3" height="12" fill="#26a69a"/><rect x="650" y="244" width="1" height="15" fill="#26a69a"/><rect x="649" y="247" width="3" height="12" fill="#26a69a"/><rect x="655" y="243" width="1" height="11" fill="#26a69a"/><rect x="654" y="244" width="3" height="4" fill="#26a69a"/><rect x="660" y="236" width="1" height="11" fill="#26a69a"/><rect x="659" y="240" width="3" height="5" fill="#26a69a"/><rect x="665" y="222" width="1" height="21" fill="#26a69a"/><rect x="664" y="224" width="3" height="17" fill="#26a69a"/><rect x="670" y="223" width="1" height="15" fill="#ef5350"/><rect x="669" y="225" width="3" height="13" fill="#ef5350"/><rect x="675" y="220" width="1" height="20" fill="#26a69a"/><rect x="674" y="227" width="3" height="11" fill="#26a69a"/><rect x="680" y="219" width="1" height="13" fill="#26a69a"/><rect x="679" y="219" width="3" height="9" fill="#26a69a"/><rect x="685" y="219" width="1" height="7" fill="#ef5350"/><rect x="684" y="219" width="3" height="7" fill="#ef5350"/><rect x="689" y="221" width="1" height="16" fill="#ef5350"/><rect x="688" y="226" width="3" height="10" fill="#ef5350"/><rect x="694" y="234" width="1" height="15" fill="#ef5350"/><rect x="693" y="235" width="3" height="13" fill="#ef5350"/><rect x="699" y="247" width="1" height="10" fill="#ef5350"/><rect x="698" y="247" width="3" height="10" fill="#ef5350"/><rect x="704" y="243" width="1" height="18" fill="#26a69a"/><rect x="703" y="255" width="3" height="2" fill="#26a69a"/><rect x="709" y="245" width="1" height="19" fill="#ef5350"/><rect x="708" y="254" width="3" height="8" fill="#ef5350"/><rect x="714" y="245" width="1" height="26" fill="#26a69a"/><rect x="713" y="246" width="3" height="17" fill="#26a69a"/><rect x="719" y="230" width="1" height="19" fill="#26a69a"/><rect x="718" y="236" width="3" height="9" fill="#26a69a"/><rect x="724" y="225" width="1" height="21" fill="#26a69a"/><rect x="723" y="232" width="3" height="4" fill="#26a69a"/><rect x="729" y="220" width="1" height="16" fill="#26a69a"/><rect x="728" y="223" width="3" height="11" fill="#26a69a"/><rect x="734" y="218" width="1" height="8" fill="#26a69a"/><rect x="733" y="220" width="3" height="5" fill="#26a69a"/><rect x="739" y="193" width="1" height="28" fill="#26a69a"/><rect x="738" y="205" width="3" height="16" fill="#26a69a"/><rect x="744" y="170" width="1" height="39" fill="#26a69a"/><rect x="743" y="170" width="3" height="36" fill="#26a69a"/><rect x="749" y="162" width="1" height="24" fill="#ef5350"/><rect x="748" y="171" width="3" height="4" fill="#ef5350"/><rect x="754" y="174" width="1" height="12" fill="#ef5350"/><rect x="753" y="174" width="3" height="9" fill="#ef5350"/><rect x="759" y="173" width="1" height="30" fill="#26a69a"/><rect x="758" y="174" width="3" height="9" fill="#26a69a"/><rect x="764" y="160" width="1" height="26" fill="#ef5350"/><rect x="763" y="174" width="3" height="4" fill="#ef5350"/><rect x="769" y="172" width="1" height="12" fill="#26a69a"/><rect x="768" y="174" width="3" height="4" fill="#26a69a"/><rect x="774" y="173" width="1" height="8" fill="#ef5350"/><rect x="773" y="173" width="3" height="7" fill="#ef5350"/><rect x="778" y="176" width="1" height="7" fill="#ef5350"/><rect x="777" y="179" width="3" height="4" fill="#ef5350"/><rect x="783" y="164" width="1" height="21" fill="#26a69a"/><rect x="782" y="170" width="3" height="15" fill="#26a69a"/><rect x="788" y="149" width="1" height="28" fill="#ef5350"/><rect x="787" y="170" width="3" height="3" fill="#ef5350"/><rect x="793" y="157" width="1" height="17" fill="#26a69a"/><rect x="792" y="166" width="3" height="8" fill="#26a69a"/><rect x="798" y="139" width="1" height="30" fill="#26a69a"/><rect x="797" y="145" width="3" height="23" fill="#26a69a"/><rect x="803" y="133" width="1" height="20" fill="#ef5350"/><rect x="802" y="145" width="3" height="3" fill="#ef5350"/><rect x="808" y="142" width="1" height="16" fill="#26a69a"/><rect x="807" y="145" width="3" height="3" fill="#26a69a"/><rect x="813" y="129" width="1" height="22" fill="#26a69a"/><rect x="812" y="140" width="3" height="6" fill="#26a69a"/><rect x="818" y="129" width="1" height="14" fill="#26a69a"/><rect x="817" y="130" width="3" height="12" fill="#26a69a"/><rect x="823" y="118" width="1" height="15" fill="#26a69a"/><rect x="822" y="127" width="3" height="4" fill="#26a69a"/><rect x="828" y="112" width="1" height="16" fill="#26a69a"/><rect x="827" y="114" width="3" height="13" fill="#26a69a"/><rect x="833" y="114" width="1" height="34" fill="#ef5350"/><rect x="832" y="114" width="3" height="34" fill="#ef5350"/><rect x="838" y="140" width="1" height="15" fill="#26a69a"/><rect x="837" y="141" width="3" height="7" fill="#26a69a"/><rect x="843" y="139" width="1" height="15" fill="#ef5350"/><rect x="842" y="141" width="3" height="13" fill="#ef5350"/><rect x="848" y="153" width="1" height="18" fill="#ef5350"/><rect x="847" y="153" width="3" height="10" fill="#ef5350"/><rect x="853" y="158" width="1" height="9" fill="#26a69a"/><rect x="852" y="159" width="3" height="4" fill="#26a69a"/><rect x="858" y="159" width="1" height="10" fill="#ef5350"/><rect x="857" y="159" width="3" height="6" fill="#ef5350"/><rect x="863" y="154" width="1" height="16" fill="#ef5350"/><rect x="862" y="164" width="3" height="1" fill="#ef5350"/><rect x="867" y="164" width="1" height="9" fill="#ef5350"/><rect x="866" y="165" width="3" height="4" fill="#ef5350"/><rect x="872" y="164" width="1" height="13" fill="#ef5350"/><rect x="871" y="168" width="3" height="6" fill="#ef5350"/><rect x="877" y="168" width="1" height="12" fill="#ef5350"/><rect x="876" y="173" width="3" height="4" fill="#ef5350"/><rect x="882" y="165" width="1" height="15" fill="#26a69a"/><rect x="881" y="165" width="3" height="13" fill="#26a69a"/><rect x="887" y="165" width="1" height="9" fill="#ef5350"/><rect x="886" y="165" width="3" height="4" fill="#ef5350"/><rect x="892" y="166" width="1" height="10" fill="#ef5350"/><rect x="891" y="168" width="3" height="3" fill="#ef5350"/><rect x="897" y="153" width="1" height="18" fill="#26a69a"/><rect x="896" y="154" width="3" height="17" fill="#26a69a"/><rect x="902" y="154" width="1" height="9" fill="#ef5350"/><rect x="901" y="154" width="3" height="4" fill="#ef5350"/><rect x="907" y="143" width="1" height="15" fill="#26a69a"/><rect x="906" y="152" width="3" height="6" fill="#26a69a"/><rect x="912" y="153" width="1" height="18" fill="#ef5350"/><rect x="911" y="153" width="3" height="15" fill="#ef5350"/><rect x="917" y="160" width="1" height="10" fill="#26a69a"/><rect x="916" y="167" width="3" height="1" fill="#26a69a"/><rect x="922" y="163" width="1" height="15" fill="#ef5350"/><rect x="921" y="167" width="3" height="11" fill="#ef5350"/><rect x="927" y="162" width="1" height="19" fill="#26a69a"/><rect x="926" y="162" width="3" height="15" fill="#26a69a"/><rect x="932" y="160" width="1" height="12" fill="#ef5350"/><rect x="931" y="163" width="3" height="6" fill="#ef5350"/><rect x="937" y="161" width="1" height="8" fill="#26a69a"/><rect x="936" y="163" width="3" height="6" fill="#26a69a"/><rect x="942" y="158" width="1" height="16" fill="#ef5350"/><rect x="941" y="163" width="3" height="8" fill="#ef5350"/><rect x="947" y="168" width="1" height="12" fill="#ef5350"/><rect x="946" y="170" width="3" height="9" fill="#ef5350"/><rect x="951" y="170" width="1" height="10" fill="#26a69a"/><rect x="950" y="171" width="3" height="8" fill="#26a69a"/><rect x="956" y="164" width="1" height="10" fill="#26a69a"/><rect x="955" y="167" width="3" height="5" fill="#26a69a"/><rect x="961" y="157" width="1" height="13" fill="#26a69a"/><rect x="960" y="167" width="3" height="1" fill="#26a69a"/><rect x="966" y="157" width="1" height="11" fill="#26a69a"/><rect x="965" y="162" width="3" height="6" fill="#26a69a"/><rect x="971" y="152" width="1" height="15" fill="#26a69a"/><rect x="970" y="152" width="3" height="12" fill="#26a69a"/><rect x="976" y="150" width="1" height="10" fill="#ef5350"/><rect x="975" y="152" width="3" height="6" fill="#ef5350"/><rect x="981" y="156" width="1" height="77" fill="#ef5350"/><rect x="980" y="157" width="3" height="60" fill="#ef5350"/><rect x="986" y="187" width="1" height="30" fill="#26a69a"/><rect x="985" y="188" width="3" height="29" fill="#26a69a"/><rect x="991" y="128" width="1" height="82" fill="#26a69a"/><rect x="990" y="137" width="3" height="52" fill="#26a69a"/><rect x="996" y="137" width="1" height="63" fill="#ef5350"/><rect x="995" y="137" width="3" height="63" fill="#ef5350"/><rect x="1001" y="165" width="1" height="42" fill="#ef5350"/><rect x="1000" y="198" width="3" height="7" fill="#ef5350"/><rect x="1006" y="192" width="1" height="28" fill="#26a69a"/><rect x="1005" y="200" width="3" height="5" fill="#26a69a"/><rect x="1011" y="177" width="1" height="27" fill="#26a69a"/><rect x="1010" y="198" width="3" height="3" fill="#26a69a"/><rect x="1016" y="182" width="1" height="19" fill="#ef5350"/><rect x="1015" y="198" width="3" height="1" fill="#ef5350"/><rect x="1021" y="192" width="1" height="37" fill="#ef5350"/><rect x="1020" y="198" width="3" height="20" fill="#ef5350"/><rect x="1026" y="202" width="1" height="17" fill="#26a69a"/><rect x="1025" y="205" width="3" height="12" fill="#26a69a"/><rect x="1031" y="179" width="1" height="25" fill="#26a69a"/><rect x="1030" y="179" width="3" height="25" fill="#26a69a"/><rect x="1036" y="179" width="1" height="27" fill="#ef5350"/><rect x="1035" y="179" width="3" height="27" fill="#ef5350"/><rect x="1040" y="184" width="1" height="23" fill="#26a69a"/><rect x="1039" y="184" width="3" height="22" fill="#26a69a"/><rect x="1045" y="180" width="1" height="26" fill="#ef5350"/><rect x="1044" y="184" width="3" height="8" fill="#ef5350"/><rect x="1050" y="171" width="1" height="20" fill="#26a69a"/><rect x="1049" y="176" width="3" height="15" fill="#26a69a"/><rect x="1055" y="162" width="1" height="19" fill="#26a69a"/><rect x="1054" y="166" width="3" height="12" fill="#26a69a"/><rect x="1060" y="137" width="1" height="30" fill="#26a69a"/><rect x="1059" y="141" width="3" height="26" fill="#26a69a"/><rect x="1065" y="141" width="1" height="28" fill="#ef5350"/><rect x="1064" y="142" width="3" height="18" fill="#ef5350"/><rect x="1070" y="153" width="1" height="13" fill="#26a69a"/><rect x="1069" y="157" width="3" height="3" fill="#26a69a"/><rect x="1075" y="157" width="1" height="40" fill="#ef5350"/><rect x="1074" y="157" width="3" height="29" fill="#ef5350"/><rect x="1080" y="173" width="1" height="14" fill="#26a69a"/><rect x="1079" y="181" width="3" height="5" fill="#26a69a"/><rect x="1085" y="176" width="1" height="13" fill="#26a69a"/><rect x="1084" y="179" width="3" height="3" fill="#26a69a"/><rect x="1090" y="173" width="1" height="11" fill="#26a69a"/><rect x="1089" y="173" width="3" height="7" fill="#26a69a"/><rect x="1095" y="159" width="1" height="16" fill="#26a69a"/><rect x="1094" y="163" width="3" height="11" fill="#26a69a"/><rect x="1100" y="156" width="1" height="17" fill="#ef5350"/><rect x="1099" y="163" width="3" height="3" fill="#ef5350"/><rect x="1105" y="158" width="1" height="11" fill="#26a69a"/><rect x="1104" y="162" width="3" height="4" fill="#26a69a"/><rect x="1110" y="153" width="1" height="12" fill="#26a69a"/><rect x="1109" y="155" width="3" height="8" fill="#26a69a"/><rect x="1115" y="142" width="1" height="28" fill="#ef5350"/><rect x="1114" y="155" width="3" height="12" fill="#ef5350"/><rect x="1120" y="158" width="1" height="13" fill="#26a69a"/><rect x="1119" y="161" width="3" height="6" fill="#26a69a"/><rect x="1125" y="146" width="1" height="17" fill="#26a69a"/><rect x="1124" y="149" width="3" height="13" fill="#26a69a"/><rect x="1129" y="137" width="1" height="13" fill="#26a69a"/><rect x="1128" y="137" width="3" height="13" fill="#26a69a"/><rect x="1134" y="123" width="1" height="21" fill="#26a69a"/><rect x="1133" y="126" width="3" height="12" fill="#26a69a"/><rect x="1139" y="121" width="1" height="19" fill="#ef5350"/><rect x="1138" y="126" width="3" height="1" fill="#ef5350"/><rect x="1144" y="126" width="1" height="18" fill="#ef5350"/><rect x="1143" y="126" width="3" height="17" fill="#ef5350"/><rect x="1149" y="125" width="1" height="22" fill="#26a69a"/><rect x="1148" y="132" width="3" height="11" fill="#26a69a"/><rect x="1154" y="102" width="1" height="31" fill="#26a69a"/><rect x="1153" y="122" width="3" height="11" fill="#26a69a"/><rect x="1159" y="105" width="1" height="22" fill="#ef5350"/><rect x="1158" y="122" width="3" height="1" fill="#ef5350"/><rect x="1164" y="121" width="1" height="11" fill="#ef5350"/><rect x="1163" y="122" width="3" height="7" fill="#ef5350"/><rect x="1169" y="128" width="1" height="12" fill="#ef5350"/><rect x="1168" y="128" width="3" height="9" fill="#ef5350"/><rect x="1174" y="128" width="1" height="14" fill="#ef5350"/><rect x="1173" y="136" width="3" height="5" fill="#ef5350"/><rect x="1179" y="137" width="1" height="30" fill="#ef5350"/><rect x="1178" y="140" width="3" height="27" fill="#ef5350"/><rect x="1184" y="158" width="1" height="20" fill="#ef5350"/><rect x="1183" y="166" width="3" height="8" fill="#ef5350"/><rect x="1189" y="160" width="1" height="21" fill="#26a69a"/><rect x="1188" y="161" width="3" height="14" fill="#26a69a"/><rect x="1194" y="156" width="1" height="13" fill="#26a69a"/><rect x="1193" y="161" width="3" height="3" fill="#26a69a"/><rect x="1199" y="126" width="1" height="38" fill="#26a69a"/><rect x="1198" y="127" width="3" height="35" fill="#26a69a"/><rect x="1204" y="124" width="1" height="27" fill="#ef5350"/><rect x="1203" y="127" width="3" height="18" fill="#ef5350"/><rect x="1209" y="134" width="1" height="12" fill="#26a69a"/><rect x="1208" y="140" width="3" height="5" fill="#26a69a"/><rect x="1214" y="138" width="1" height="17" fill="#ef5350"/><rect x="1213" y="140" width="3" height="15" fill="#ef5350"/><rect x="1218" y="126" width="1" height="31" fill="#26a69a"/><rect x="1217" y="128" width="3" height="27" fill="#26a69a"/><rect x="1223" y="108" width="1" height="23" fill="#26a69a"/><rect x="1222" y="121" width="3" height="8" fill="#26a69a"/><rect x="1228" y="111" width="1" height="20" fill="#26a69a"/><rect x="1227" y="118" width="3" height="4" fill="#26a69a"/><rect x="1233" y="111" width="1" height="13" fill="#26a69a"/><rect x="1232" y="114" width="3" height="5" fill="#26a69a"/><rect x="1238" y="107" width="1" height="15" fill="#ef5350"/><rect x="1237" y="114" width="3" height="8" fill="#ef5350"/><rect x="1243" y="121" width="1" height="13" fill="#ef5350"/><rect x="1242" y="121" width="3" height="12" fill="#ef5350"/><rect x="1248" y="130" width="1" height="12" fill="#ef5350"/><rect x="1247" y="132" width="3" height="8" fill="#ef5350"/><rect x="1253" y="132" width="1" height="9" fill="#26a69a"/><rect x="1252" y="136" width="3" height="4" fill="#26a69a"/><rect x="1258" y="133" width="1" height="12" fill="#ef5350"/><rect x="1257" y="136" width="3" height="5" fill="#ef5350"/><rect x="1263" y="136" width="1" height="10" fill="#ef5350"/><rect x="1262" y="139" width="3" height="4" fill="#ef5350"/><rect x="1268" y="137" width="1" height="10" fill="#ef5350"/><rect x="1267" y="143" width="3" height="3" fill="#ef5350"/><rect x="1273" y="144" width="1" height="8" fill="#ef5350"/><rect x="1272" y="144" width="3" height="3" fill="#ef5350"/><rect x="1278" y="144" width="1" height="18" fill="#ef5350"/><rect x="1277" y="146" width="3" height="9" fill="#ef5350"/><rect x="1283" y="150" width="1" height="14" fill="#26a69a"/><rect x="1282" y="152" width="3" height="3" fill="#26a69a"/><rect x="1288" y="152" width="1" height="14" fill="#ef5350"/><rect x="1287" y="153" width="3" height="13" fill="#ef5350"/><rect x="1293" y="164" width="1" height="12" fill="#ef5350"/><rect x="1292" y="165" width="3" height="1" fill="#ef5350"/><rect x="1298" y="161" width="1" height="11" fill="#26a69a"/><rect x="1297" y="163" width="3" height="3" fill="#26a69a"/><rect x="1302" y="151" width="1" height="12" fill="#26a69a"/><rect x="1301" y="153" width="3" height="10" fill="#26a69a"/><rect x="1307" y="144" width="1" height="14" fill="#ef5350"/><rect x="1306" y="153" width="3" height="5" fill="#ef5350"/><rect x="1312" y="154" width="1" height="10" fill="#26a69a"/><rect x="1311" y="156" width="3" height="1" fill="#26a69a"/><rect x="1317" y="155" width="1" height="15" fill="#ef5350"/><rect x="1316" y="156" width="3" height="6" fill="#ef5350"/><rect x="1322" y="155" width="1" height="9" fill="#26a69a"/><rect x="1321" y="158" width="3" height="4" fill="#26a69a"/><rect x="1327" y="148" width="1" height="11" fill="#26a69a"/><rect x="1326" y="149" width="3" height="10" fill="#26a69a"/><rect x="1332" y="142" width="1" height="11" fill="#26a69a"/><rect x="1331" y="142" width="3" height="8" fill="#26a69a"/><rect x="1337" y="133" width="1" height="14" fill="#26a69a"/><rect x="1336" y="134" width="3" height="9" fill="#26a69a"/>
</g>
<g shape-rendering="crispEdges" fill="#dcdde0">
<rect x="1389" y="34" width="1" height="714"/><rect x="13" y="714" width="1453" height="1"/>
</g>
<g shape-rendering="crispEdges" fill="#f1f2f4">
<rect x="12" y="33" width="1455" height="2"/><rect x="12" y="748" width="1455" height="2"/><rect x="12" y="33" width="2" height="717"/><rect x="1465" y="33" width="2" height="717"/>
</g>
<rect x="13" y="538" width="1" height="36" fill="#26a69a" fill-opacity="0.55" shape-rendering="crispEdges"/><rect x="13" y="660" width="1" height="54" fill="#26a69a" fill-opacity="0.3" shape-rendering="crispEdges"/>
<text transform="translate(12.73,24.7) scale(0.9515,1)" font-size="14.9" fill="#222" stroke="#222" stroke-width="0.2">RechercheBay</text>
<text transform="translate(110.60,24.7) scale(1.1054,1)" font-size="14.9" fill="#222" stroke="#222" stroke-width="0.2">created</text>
<text transform="translate(168.00,24.7) scale(1.1013,1)" font-size="14.9" fill="#222" stroke="#222" stroke-width="0.2">with</text>
<text transform="translate(201.66,24.7) scale(1.0058,1)" font-size="14.9" fill="#222" stroke="#222" stroke-width="0.2">TradingView.com,</text>
<text transform="translate(324.36,24.7) scale(0.9257,1)" font-size="14.9" fill="#222" stroke="#222" stroke-width="0.2">Dec</text>
<text transform="translate(354.19,24.7) scale(1.0227,1)" font-size="14.9" fill="#222" stroke="#222" stroke-width="0.2">04,</text>
<text transform="translate(379.60,24.7) scale(0.9379,1)" font-size="14.9" fill="#222" stroke="#222" stroke-width="0.2">2025</text>
<text transform="translate(415.51,24.7) scale(0.9835,1)" font-size="14.9" fill="#222" stroke="#222" stroke-width="0.2">05:05</text>
<text transform="translate(456.52,24.7) scale(0.9369,1)" font-size="14.9" fill="#222" stroke="#222" stroke-width="0.2">UTC-3</text>
<text transform="translate(22.38,58.9) scale(1.0381,1)" font-size="15.4" fill="#131722" stroke="#131722" stroke-width="0.2">Bitcoin</text>
<text transform="translate(86.31,58.9) scale(0.9169,1)" font-size="15.4" fill="#131722" stroke="#131722" stroke-width="0.2">U.S.</text>
<text transform="translate(118.54,58.9) scale(0.9915,1)" font-size="15.4" fill="#131722" stroke="#131722" stroke-width="0.2">Dollar</text>
<text transform="translate(174.34,58.9) scale(0.8353,1)" font-size="15.4" fill="#131722" stroke="#131722" stroke-width="0.2">15</text>
<text transform="translate(203.53,58.9) scale(0.9962,1)" font-size="15.4" fill="#131722" stroke="#131722" stroke-width="0.2">Bitstamp</text>
<text transform="translate(271.84,58.9) scale(0.9039,1)" font-size="15.4" fill="#131722" stroke="#131722" stroke-width="0.2">O</text>
<text transform="translate(282.60,58.9) scale(0.9584,1)" font-size="15.4" fill="#26a69a" stroke="#26a69a" stroke-width="0.2">93,418</text>
<text transform="translate(335.54,58.9) scale(0.9900,1)" font-size="15.4" fill="#131722" stroke="#131722" stroke-width="0.2">H</text>
<text transform="translate(345.60,58.9) scale(0.9584,1)" font-size="15.4" fill="#26a69a" stroke="#26a69a" stroke-width="0.2">93,596</text>
<text transform="translate(399.44,58.9) scale(0.9888,1)" font-size="15.4" fill="#131722" stroke="#131722" stroke-width="0.2">L</text>
<text transform="translate(407.73,58.9) scale(0.9184,1)" font-size="15.4" fill="#26a69a" stroke="#26a69a" stroke-width="0.2">93,331</text>
<text transform="translate(461.06,58.9) scale(0.8316,1)" font-size="15.4" fill="#131722" stroke="#131722" stroke-width="0.2">C</text>
<text transform="translate(470.00,58.9) scale(0.9601,1)" font-size="15.4" fill="#26a69a" stroke="#26a69a" stroke-width="0.2">93,584</text>
<text transform="translate(524.52,58.9) scale(0.8778,1)" font-size="15.4" fill="#26a69a" stroke="#26a69a" stroke-width="0.2">+166</text>
<text transform="translate(560.23,58.9) scale(0.9084,1)" font-size="15.4" fill="#26a69a" stroke="#26a69a" stroke-width="0.2">(+0.18%)</text>
<text transform="translate(23.22,79.9) scale(0.9759,1)" font-size="15.4" fill="#131722" stroke="#131722" stroke-width="0.2">Vol</text>
<text transform="translate(57.51,79.9) scale(0.8543,1)" font-size="15.4" fill="#131722" stroke="#131722" stroke-width="0.2">BTC</text>
<text transform="translate(92.46,79.9) scale(0.9701,1)" font-size="15.4" fill="#26a69a" stroke="#26a69a" stroke-width="0.2">42</text>
<rect x="164.7" y="52.9" width="2.4" height="2.2" rx="0.5" fill="#131722"/>
<rect x="195.1" y="52.9" width="2.4" height="2.2" rx="0.5" fill="#131722"/>
<rect x="49.3" y="74.0" width="2.4" height="2.2" rx="0.5" fill="#131722"/>
<line x1="76.2" y1="59.4" x2="80.3" y2="47.8" stroke="#131722" stroke-width="1.3"/>
<text transform="translate(1399.66,706.3) scale(0.9667,1)" font-size="15.6" fill="#131722" stroke="#131722" stroke-width="0.2">83,000</text>
<text transform="translate(1399.66,652.3) scale(0.9667,1)" font-size="15.6" fill="#131722" stroke="#131722" stroke-width="0.2">84,000</text>
<text transform="translate(1399.66,599.3) scale(0.9667,1)" font-size="15.6" fill="#131722" stroke="#131722" stroke-width="0.2">85,000</text>
<text transform="translate(1399.66,545.3) scale(0.9667,1)" font-size="15.6" fill="#131722" stroke="#131722" stroke-width="0.2">86,000</text>
<text transform="translate(1399.66,491.3) scale(0.9667,1)" font-size="15.6" fill="#131722" stroke="#131722" stroke-width="0.2">87,000</text>
<text transform="translate(1399.66,438.3) scale(0.9667,1)" font-size="15.6" fill="#131722" stroke="#131722" stroke-width="0.2">88,000</text>
<text transform="translate(1399.66,384.3) scale(0.9667,1)" font-size="15.6" fill="#131722" stroke="#131722" stroke-width="0.2">89,000</text>
<text transform="translate(1399.58,330.3) scale(0.9683,1)" font-size="15.6" fill="#131722" stroke="#131722" stroke-width="0.2">90,000</text>
<text transform="translate(1399.58,276.3) scale(0.9683,1)" font-size="15.6" fill="#131722" stroke="#131722" stroke-width="0.2">91,000</text>
<text transform="translate(1399.58,223.3) scale(0.9683,1)" font-size="15.6" fill="#131722" stroke="#131722" stroke-width="0.2">92,000</text>
<text transform="translate(1399.58,169.3) scale(0.9683,1)" font-size="15.6" fill="#131722" stroke="#131722" stroke-width="0.2">93,000</text>
<text transform="translate(1399.58,115.3) scale(0.9683,1)" font-size="15.6" fill="#131722" stroke="#131722" stroke-width="0.2">94,000</text>
<rect x="1394.1" y="39.1" width="68.1" height="31.5" rx="4.5" ry="4.5" fill="#fff" stroke="#eceef1" stroke-width="1.2"/>
<text transform="translate(1404.60,59.4) scale(0.8796,1)" font-size="14.7" fill="#131722" stroke="#131722" stroke-width="0.2">USD</text>
<text transform="translate(32.97,736.9) scale(0.9808,1)" font-size="15.4" fill="#131722" stroke="#131722" stroke-width="0.2">12:00</text>
<text transform="translate(150.97,736.9) scale(0.9808,1)" font-size="15.4" fill="#131722" stroke="#131722" stroke-width="0.2">18:00</text>
<text transform="translate(285.25,736.9) scale(1.0146,1)" font-size="15.4" fill="#131722" font-weight="bold" stroke="#131722" stroke-width="0.2">2</text>
<text transform="translate(389.50,736.9) scale(0.9667,1)" font-size="15.4" fill="#131722" stroke="#131722" stroke-width="0.2">06:00</text>
<text transform="translate(506.97,736.9) scale(0.9808,1)" font-size="15.4" fill="#131722" stroke="#131722" stroke-width="0.2">12:00</text>
<text transform="translate(625.97,736.9) scale(0.9808,1)" font-size="15.4" fill="#131722" stroke="#131722" stroke-width="0.2">18:00</text>
<text transform="translate(760.40,736.9) scale(0.8615,1)" font-size="15.4" fill="#131722" font-weight="bold" stroke="#131722" stroke-width="0.2">3</text>
<text transform="translate(863.50,736.9) scale(0.9667,1)" font-size="15.4" fill="#131722" stroke="#131722" stroke-width="0.2">06:00</text>
<text transform="translate(981.97,736.9) scale(0.9808,1)" font-size="15.4" fill="#131722" stroke="#131722" stroke-width="0.2">12:00</text>
<text transform="translate(1100.97,736.9) scale(0.9808,1)" font-size="15.4" fill="#131722" stroke="#131722" stroke-width="0.2">18:00</text>
<text transform="translate(1233.87,736.9) scale(0.9953,1)" font-size="15.4" fill="#131722" font-weight="bold" stroke="#131722" stroke-width="0.2">4</text>
<text transform="translate(1338.50,736.9) scale(0.9667,1)" font-size="15.4" fill="#131722" stroke="#131722" stroke-width="0.2">06:00</text>
<g transform="translate(15.46,772.45) scale(1.053,1.025)" fill="#101010"><path d="M14 22H7V11H0V4h14v18z"/><path d="M28.9 22H20.3L27.5 4h8.1L28.9 22z"/><circle cx="20.3" cy="7.5" r="3.7"/></g>
<defs><clipPath id="wclip"><rect x="190" y="781.3" width="26" height="13.9"/></clipPath></defs>
<g fill="#101010"><rect x="61.80" y="776.30" width="13.80" height="3.60"/><rect x="66.60" y="776.30" width="4.30" height="18.90"/><rect x="75.70" y="781.30" width="3.70" height="13.90"/><path d="M77.55,790 C77.55,785.2 79.8,783.1 83.7,783.1" fill="none" stroke="#101010" stroke-width="3.6"/><ellipse cx="91.10" cy="788.15" rx="5.1" ry="5.45" fill="none" stroke="#101010" stroke-width="3.6"/><rect x="94.20" y="781.10" width="3.70" height="14.10"/><ellipse cx="107.30" cy="788.15" rx="5.1" ry="5.45" fill="none" stroke="#101010" stroke-width="3.6"/><rect x="110.80" y="776.30" width="3.70" height="18.90"/><rect x="117.20" y="781.30" width="3.70" height="13.90"/><circle cx="119.05" cy="778.0" r="2.35"/><rect x="123.10" y="781.30" width="3.70" height="13.90"/><path d="M124.95,787.4 A4.6,4.6 0 0 1 134.15,787.4 V795.2" fill="none" stroke="#101010" stroke-width="3.7"/><ellipse cx="145.05" cy="788.15" rx="5.1" ry="5.45" fill="none" stroke="#101010" stroke-width="3.6"/><path d="M150.15,781.1 V794.2 C150.15,800.3 142.8,800.7 139.8,797.0" fill="none" stroke="#101010" stroke-width="3.7"/><polygon points="151.7,776.3 156.2,776.3 161.3,789.8 166.3,776.3 170.7,776.3 163.5,795.2 159.0,795.2"/><rect x="172.10" y="781.30" width="3.70" height="13.90"/><circle cx="173.95" cy="778.0" r="2.35"/><path d="M190.4,788.4 A5.25,5.45 0 1 0 189.0,791.9" fill="none" stroke="#101010" stroke-width="3.6"/><rect x="181.00" y="787.70" width="11.20" height="2.90"/><path d="M194.94,779.3 L199.4,795.2 L203.3,781.3 L207.2,795.2 L211.66,779.3" fill="none" stroke="#101010" stroke-width="3.7" stroke-linejoin="miter" stroke-miterlimit="10" clip-path="url(#wclip)"/></g>
</svg>
</body></html>
